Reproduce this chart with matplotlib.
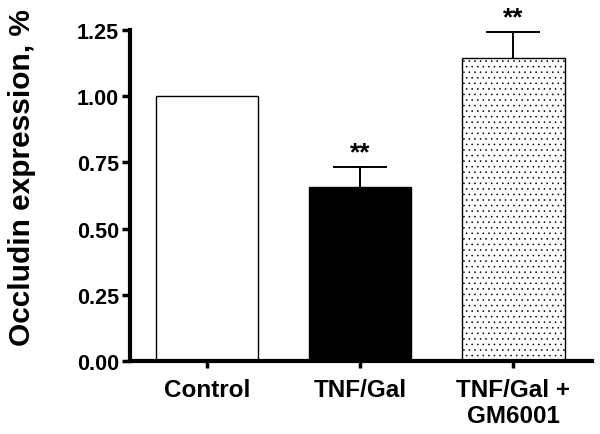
import matplotlib
matplotlib.use('Agg')
import matplotlib.pyplot as plt
import numpy as np

groups = ['Control', 'TNF/Gal', 'TNF/Gal +\nGM6001']
means = [1.00, 0.655, 1.145]
errs = [0.0, 0.077, 0.097]
stars = ['', '**', '**']

plt.rcParams['font.family'] = ['Liberation Sans', 'DejaVu Sans']
plt.rcParams['font.weight'] = 'bold'
plt.rcParams['hatch.linewidth'] = 0.4
plt.rcParams['hatch.color'] = '#222222'

fig = plt.figure(figsize=(6, 4.35), dpi=100)
ax = fig.add_axes([0.217, 0.168, 0.77, 0.761])

x = np.arange(len(groups))
faces = ['white', 'black', 'white']
hatches = [None, None, '...']
bars = ax.bar(x, means, width=0.67, color=faces, edgecolor='black',
              linewidth=1.0, zorder=2)
for b, h in zip(bars, hatches):
    if h:
        b.set_hatch(h)

# upper-only error bars, cap width about half the bar
for xi, m, e, s in zip(x, means, errs, stars):
    if e > 0:
        ax.plot([xi, xi], [m, m + e], color='black', lw=1.4, zorder=1,
                clip_on=False)
        ax.plot([xi - 0.17, xi + 0.17], [m + e, m + e], color='black',
                lw=1.4, zorder=1, clip_on=False)
    if s:
        ax.text(xi, m + e + 0.03, s, ha='center', va='baseline', fontsize=19,
                fontweight='bold', clip_on=False)

ax.set_xlim(-0.503, 2.516)
ax.set_ylim(0, 1.25)
ax.set_yticks([0, 0.25, 0.5, 0.75, 1.0, 1.25])
ax.set_yticklabels(['0.00', '0.25', '0.50', '0.75', '1.00', '1.25'])
ax.set_xticks(x)
ax.set_xticklabels(groups, fontsize=17.5, fontweight='bold')
ax.set_ylabel('Occludin expression, %', fontsize=21.5, fontweight='bold')
ax.yaxis.set_label_coords(-0.203, 0.556)

ax.spines['top'].set_visible(False)
ax.spines['right'].set_visible(False)
ax.spines['left'].set_linewidth(3)
ax.spines['bottom'].set_linewidth(3)
ax.tick_params(axis='y', length=6, width=2.5, labelsize=15.5, pad=2)
ax.tick_params(axis='x', length=5, width=2.5, pad=7)

fig.savefig('out.png', dpi=100)
